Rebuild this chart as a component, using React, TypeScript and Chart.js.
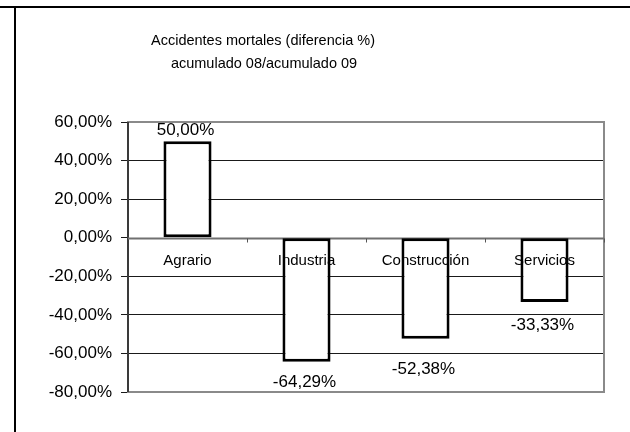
import React, { useEffect, useRef } from "react";
import { Chart, registerables } from "chart.js";

Chart.register(...registerables);

const categories = ["Agrario", "Industria", "Construcción", "Servicios"];
const diffValues = [50.0, -64.29, -52.38, -33.33];
const titleLines = ["Accidentes mortales (diferencia %)", "acumulado 08/acumulado 09"];
const yMin = -80;
const yMax = 60;
const yStep = 20;
// distance (px) from bar end to the label baseline, per label
const labelGap = [6, 25, 35, 28];

const FONT = "'Liberation Sans', Arial, sans-serif";
const fmt = (v: number) => v.toFixed(2).replace(".", ",") + "%";

const decorPlugin = {
  id: "decor",
  beforeDraw(chart: any) {
    const { ctx, width, height } = chart;
    ctx.save();
    ctx.fillStyle = "#fff";
    ctx.fillRect(0, 0, width, height);
    ctx.strokeStyle = "#000";
    ctx.lineWidth = 2;
    ctx.beginPath();
    ctx.moveTo(0, 7);
    ctx.lineTo(width, 7);
    ctx.moveTo(15, 7);
    ctx.lineTo(15, height);
    ctx.stroke();
    ctx.restore();
  },
  beforeDatasetsDraw(chart: any) {
    const { ctx, chartArea } = chart;
    const y = chart.scales.y;
    const x = chart.scales.x;
    ctx.save();
    // plot border
    ctx.strokeStyle = "#8a8a8a";
    ctx.lineWidth = 2;
    ctx.strokeRect(chartArea.left, chartArea.top, chartArea.right - chartArea.left, chartArea.bottom - chartArea.top);
    // left axis line
    ctx.strokeStyle = "#3a3a3a";
    ctx.beginPath();
    ctx.moveTo(chartArea.left, chartArea.top);
    ctx.lineTo(chartArea.left, chartArea.bottom);
    ctx.stroke();
    // zero line
    const y0 = Math.round(y.getPixelForValue(0)) + 0.5;
    ctx.strokeStyle = "#707070";
    ctx.lineWidth = 2;
    ctx.beginPath();
    ctx.moveTo(chartArea.left, y0);
    ctx.lineTo(chartArea.right, y0);
    ctx.stroke();
    // category boundary ticks
    ctx.lineWidth = 1;
    ctx.strokeStyle = "#555";
    const n = categories.length;
    const w = (chartArea.right - chartArea.left) / n;
    for (let i = 1; i <= n; i++) {
      const px = Math.round(x.getPixelForValue(i - 1) + w / 2) + 0.5;
      ctx.beginPath();
      ctx.moveTo(px, y0);
      ctx.lineTo(px, y0 + 4);
      ctx.stroke();
    }
    ctx.restore();
  },
  afterDatasetsDraw(chart: any) {
    const { ctx } = chart;
    const y = chart.scales.y;
    const x = chart.scales.x;
    const y0 = y.getPixelForValue(0);
    ctx.save();
    ctx.fillStyle = "#000";
    ctx.textAlign = "center";
    ctx.textBaseline = "alphabetic";
    ctx.font = `15px ${FONT}`;
    categories.forEach((c, i) => {
      ctx.fillText(c, x.getPixelForValue(i), y0 + 27);
    });
    ctx.font = `17px ${FONT}`;
    const meta = chart.getDatasetMeta(0);
    diffValues.forEach((v, i) => {
      const bar = meta.data[i];
      const end = y.getPixelForValue(v);
      const by = v >= 0 ? end - labelGap[i] : end + labelGap[i];
      ctx.fillText(fmt(v), bar.x - 2, by);
    });
    ctx.restore();
  },
  afterDraw(chart: any) {
    const { ctx } = chart;
    ctx.save();
    ctx.fillStyle = "#000";
    ctx.textAlign = "center";
    ctx.textBaseline = "alphabetic";
    ctx.font = `14.5px ${FONT}`;
    ctx.fillText(titleLines[0], 263, 45);
    ctx.fillText(titleLines[1], 264, 68);
    ctx.restore();
  },
};

export default function App() {
  const ref = useRef<HTMLCanvasElement>(null);
  useEffect(() => {
    if (!ref.current) return;
    const chart = new Chart(ref.current, {
      type: "bar",
      data: {
        labels: categories,
        datasets: [
          {
            data: diffValues,
            backgroundColor: "#ffffff",
            borderColor: "#000000",
            borderWidth: 3,
            borderSkipped: false,
            barPercentage: 0.404,
            categoryPercentage: 1,
          },
        ],
      },
      options: {
        responsive: false,
        animation: false,
        devicePixelRatio: 1,
        layout: { padding: { top: 122, right: 26, bottom: 40, left: 0 } },
        plugins: { legend: { display: false }, tooltip: { enabled: false }, title: { display: false } },
        scales: {
          x: { display: false },
          y: {
            min: yMin,
            max: yMax,
            afterFit: (s: any) => {
              s.width = 128;
            },
            ticks: {
              stepSize: yStep,
              color: "#000",
              padding: 9,
              font: { family: FONT, size: 17 },
              callback: (v: any) => fmt(Number(v)),
            },
            grid: {
              color: (c: any) => {
                const v = c.tick ? c.tick.value : null;
                if (v === 0 || v === yMin || v === yMax) return "rgba(0,0,0,0)";
                return "#1a1a1a";
              },
              tickColor: "#1a1a1a",
              tickLength: 7,
              lineWidth: 1,
            },
            border: { display: false },
          },
        },
      },
      plugins: [decorPlugin],
    });
    return () => chart.destroy();
  }, []);
  return (
    <div style={{ position: "fixed", left: 0, top: 0, width: 630, height: 432, background: "#fff" }}>
      <canvas ref={ref} width={630} height={432} style={{ display: "block" }} />
    </div>
  );
}
